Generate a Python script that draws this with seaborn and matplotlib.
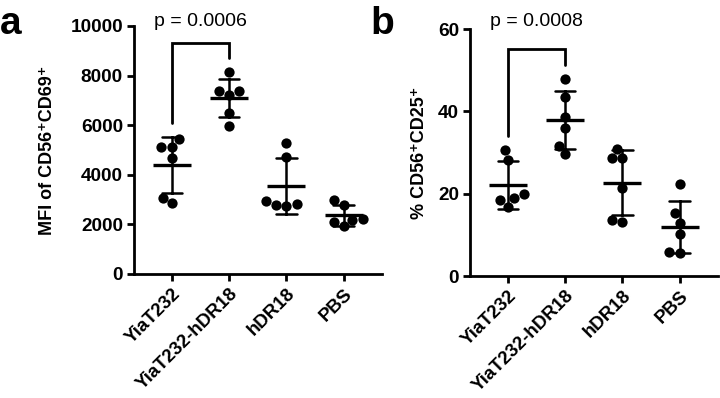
import numpy as np
import pandas as pd
import matplotlib
matplotlib.use("Agg")
import matplotlib.pyplot as plt
import seaborn as sns

groups = ["YiaT232", "YiaT232-hDR18", "hDR18", "PBS"]

mfi_yiat232 = [5430, 5130, 5130, 4690, 3080, 2850]
mfi_combo = [8130, 7390, 7390, 7220, 6500, 5970]
mfi_hdr18 = [5270, 4710, 2740, 2960, 2780, 2820]
mfi_pbs = [2980, 2780, 2210, 2110, 2180, 1940]

pct_yiat232 = [30.6, 28.2, 19.9, 18.9, 18.5, 16.8]
pct_combo = [47.9, 43.6, 38.7, 35.9, 31.7, 29.6]
pct_hdr18 = [30.8, 28.6, 28.6, 21.3, 13.2, 13.6]
pct_pbs = [22.3, 15.2, 12.9, 10.2, 5.5, 5.9]

mfi_ticks = [0, 2000, 4000, 6000, 8000, 10000]
pct_ticks = [0, 20, 40, 60]

p_a = "p = 0.0006"
p_b = "p = 0.0008"

sns.set_style("ticks")
plt.rcParams["font.family"] = ["Liberation Sans", "DejaVu Sans"]
for k in ["text.color", "axes.labelcolor", "xtick.color", "ytick.color",
          "axes.edgecolor"]:
    plt.rcParams[k] = "black"


def frame(values):
    rows = []
    for g, vals in zip(groups, values):
        for v in vals:
            rows.append({"group": g, "value": v})
    return pd.DataFrame(rows)


df_a = frame([mfi_yiat232, mfi_combo, mfi_hdr18, mfi_pbs])
df_b = frame([pct_yiat232, pct_combo, pct_hdr18, pct_pbs])

fig = plt.figure(figsize=(7.2, 3.98), dpi=100)
ax_a = fig.add_axes([0.1861, 0.3116, 0.3444, 0.6231])
ax_b = fig.add_axes([0.6528, 0.3065, 0.3444, 0.6206])


def draw(ax, df, ticks, ylabel, br, ptxt, top, lpad):
    sns.swarmplot(data=df, x="group", y="value", order=groups, ax=ax,
                  color="black", size=7.4, linewidth=0, zorder=2)
    sns.pointplot(data=df, x="group", y="value", order=groups, ax=ax,
                  color="black", errorbar="sd", capsize=0.36,
                  linestyle="none", marker="_", markersize=27,
                  markeredgewidth=2.4, err_kws={"linewidth": 1.8}, zorder=3)
    ax.set_xlim(-0.664, 3.672)
    ax.set_ylim(ticks[0], ticks[-1])
    ax.set_yticks(ticks)
    ax.set_yticklabels([str(t) for t in ticks], fontsize=13.7, fontweight="bold")
    ax.set_xticks(range(len(groups)))
    ax.set_xticklabels(groups, rotation=45, ha="right", rotation_mode="anchor",
                       fontsize=13.5, fontweight="bold")
    ax.set_xlabel("")
    ax.set_ylabel(ylabel, fontsize=13, fontweight="bold", labelpad=lpad)
    for s in ["top", "right"]:
        ax.spines[s].set_visible(False)
    for s in ["left", "bottom"]:
        ax.spines[s].set_linewidth(2.0)
    ax.tick_params(axis="both", width=2.0, length=5, pad=3)
    y0, y1, y2 = br
    ax.plot([0, 0, 1, 1], [y0, y1, y1, y2], color="black", lw=2.0,
            clip_on=False, solid_joinstyle="miter")
    ax.text(0.5, top, ptxt, ha="center", va="center", fontsize=14,
            clip_on=False)


draw(ax_a, df_a, mfi_ticks, "MFI of CD56\u207aCD69\u207a",
     (6080, 9300, 8700), p_a, 10200, 10)
draw(ax_b, df_b, pct_ticks, "% CD56\u207aCD25\u207a",
     (34.0, 55.1, 51.2), p_b, 61.8, 7)

fig.text(0.0, 0.985, "a", fontsize=28, fontweight="bold", va="top", ha="left")
fig.text(0.515, 0.985, "b", fontsize=28, fontweight="bold", va="top", ha="left")

fig.savefig("out.png", dpi=100)
